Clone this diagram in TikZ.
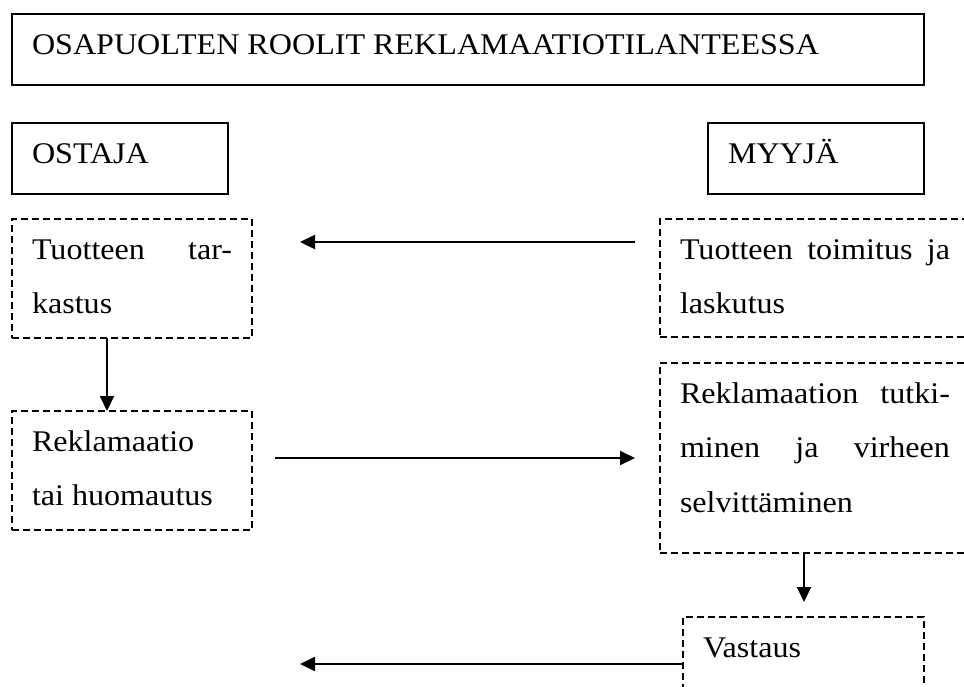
\documentclass[tikz,border=0pt]{standalone}
\usepackage{fontspec}
\setmainfont{Liberation Serif}[FakeStretch=1.07]
\usetikzlibrary{calc,arrows.meta}
\newcommand{\boxtext}[3]{\parbox[c][#1][t]{#2}{\rule{0pt}{40pt}#3}}
\tikzset{
	rolebox/.style={draw, line width=1.6pt, anchor=north west, inner xsep=20pt, inner ysep=0pt, outer sep=0pt, font=\fontsize{30}{54.5}\selectfont},
	stagebox/.style={rolebox, dash pattern=on 7pt off 4pt},
	flow/.style={line width=2pt, -{Triangle[length=15pt,width=14pt]}}
}

\begin{document}
\begin{tikzpicture}[x=1pt,y=-1pt]
			%%%%% START %%%%%
			\useasboundingbox (0,0) rectangle (964,686);
			\clip (0,0) rectangle (964,686);
			
			\node[rolebox] (title) at (12,14) {\boxtext{71pt}{872pt}{OSAPUOLTEN ROOLIT REKLAMAATIOTILANTEESSA}};
			
			\node[rolebox] (ostaja) at (12,123) {\boxtext{71pt}{176pt}{OSTAJA}};
			\node[rolebox] (myyja) at (708,123) {\boxtext{71pt}{176pt}{MYYJÄ}};
			
			\node[stagebox] (tark) at (12,219) {\boxtext{119pt}{200pt}{Tuotteen \hfill tar-\\kastus}};
			\node[stagebox] (reklam) at (12,411) {\boxtext{119pt}{200pt}{Reklamaatio\\tai huomautus}};
			
			\node[stagebox] (toim) at (660,219) {\boxtext{118pt}{270pt}{Tuotteen \hfill toimitus \hfill ja\\laskutus}};
			\node[stagebox] (tutk) at (660,363) {\boxtext{190pt}{270pt}{Reklamaation \hfill tutki-\\minen \hfill ja \hfill virheen\\selvittäminen}};
			\node[stagebox] (vast) at (683,617) {\boxtext{100pt}{201pt}{Vastaus}};
			
			\draw[flow] ($(toim.north west)+(-25,23)$) -- ($(tark.north east)+(48,23)$);
			\draw[flow] ($(tark.south west)+(95,0)$) -- ($(reklam.north west)+(95,0)$);
			\draw[flow] ($(reklam.north east)+(23,47)$) -- ($(tutk.north west)+(-25,95)$);
			\draw[flow] ($(tutk.south west)+(144,0)$) -- ($(vast.north west)+(121,-15)$);
			\draw[flow] ($(vast.north west)+(0,47)$) -- ($(reklam.south east)+(48,134)$);
			
			%%%%% END %%%%%
\end{tikzpicture}
\end{document}
